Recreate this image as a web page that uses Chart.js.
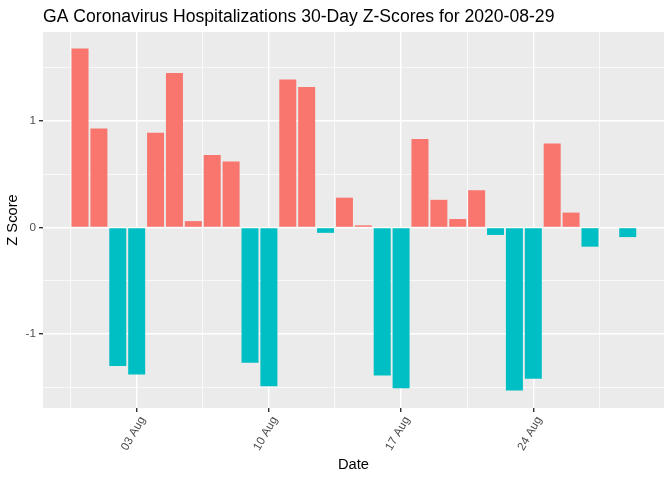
<!DOCTYPE html>
<html>
<head>
<meta charset="utf-8">
<script src="https://cdn.jsdelivr.net/npm/chart.js@4.4.0/dist/chart.umd.min.js"></script>
<style>
  body { margin: 0; background: #fff; }
</style>
</head>
<body>
<canvas id="chart" width="672" height="480"></canvas>
<script>
// z-scores per day
const dates = [
  '2020-07-31', '2020-08-01', '2020-08-02', '2020-08-03', '2020-08-04', '2020-08-05',
  '2020-08-06', '2020-08-07', '2020-08-08', '2020-08-09', '2020-08-10', '2020-08-11',
  '2020-08-12', '2020-08-13', '2020-08-14', '2020-08-15', '2020-08-16', '2020-08-17',
  '2020-08-18', '2020-08-19', '2020-08-20', '2020-08-21', '2020-08-22', '2020-08-23',
  '2020-08-24', '2020-08-25', '2020-08-26', '2020-08-27', '2020-08-28', '2020-08-29'
];
const zScores = [
  1.68, 0.93, -1.30, -1.38, 0.89, 1.45,
  0.06, 0.68, 0.62, -1.27, -1.49, 1.39,
  1.32, -0.05, 0.28, 0.02, -1.39, -1.51,
  0.83, 0.26, 0.08, 0.35, -0.07, -1.53,
  -1.42, 0.79, 0.14, -0.18, null, -0.09
];
const xTickDates = ['2020-08-03', '2020-08-10', '2020-08-17', '2020-08-24'];
const xTickLabels = ['03 Aug', '10 Aug', '17 Aug', '24 Aug'];
const yTickValues = [-1, 0, 1];
const yTickLabels = ['-1', '0', '1'];

const DAY = 86400000;
const t0 = Date.parse(dates[0]);
const dayIdx = d => Math.round((Date.parse(d) - t0) / DAY);

const points = dates.map((d, i) => ({ x: dayIdx(d), y: zScores[i] }));
const colors = zScores.map(v => (v !== null && v > 0) ? '#F8766D' : '#00BFC4');

const xMajor = xTickDates.map(dayIdx);
const xMinor = [];
for (let i = 0; i <= xMajor.length; i++) {
  const prev = i === 0 ? xMajor[0] - 7 : xMajor[i - 1];
  xMinor.push(prev + 3.5);
}

const panelBg = {
  id: 'panelBg',
  beforeDraw(chart) {
    const { ctx, chartArea: a } = chart;
    ctx.save();
    ctx.fillStyle = '#EBEBEB';
    ctx.fillRect(a.left, a.top, a.right - a.left, a.bottom - a.top);
    ctx.restore();
  }
};

const plotTitle = {
  id: 'plotTitle',
  afterDraw(chart) {
    const { ctx, chartArea: a } = chart;
    ctx.save();
    ctx.fillStyle = '#000';
    ctx.font = '17.6px "Liberation Sans", Arial, sans-serif';
    ctx.textBaseline = 'middle';
    ctx.fillText('GA Coronavirus Hospitalizations 30-Day Z-Scores for 2020-08-29', a.left, 17.5);
    ctx.restore();
  }
};

const isMajor = (arr, v) => arr.some(m => Math.abs(m - v) < 1e-6);

new Chart(document.getElementById('chart'), {
  type: 'bar',
  data: {
    datasets: [{
      data: points,
      backgroundColor: colors,
      barPercentage: 0.9,
      categoryPercentage: 1.0,
      borderWidth: 0
    }]
  },
  plugins: [panelBg, plotTitle],
  options: {
    responsive: false,
    animation: false,
    layout: { padding: { top: 32, right: 8, left: 0, bottom: 0 } },
    plugins: { legend: { display: false }, tooltip: { enabled: false } },
    scales: {
      x: {
        type: 'linear',
        offset: false,
        min: -1.96,
        max: 30.92,
        afterFit(scale) { scale.height = 72; },
        afterBuildTicks(scale) {
          scale.ticks = xMinor.concat(xMajor).sort((a, b) => a - b).map(v => ({ value: v }));
        },
        grid: {
          offset: false,
          color: '#FFFFFF',
          lineWidth: c => isMajor(xMajor, c.tick.value) ? 1.4 : 0.7,
          tickColor: c => isMajor(xMajor, c.tick.value) ? '#333333' : 'rgba(0,0,0,0)',
          tickLength: 4,
          drawTicks: true
        },
        border: { display: false },
        ticks: {
          autoSkip: false,
          maxRotation: 60,
          minRotation: 60,
          padding: 2,
          labelOffset: 6,
          color: '#4D4D4D',
          font: { family: '"Liberation Sans", Arial, sans-serif', size: 11.7 },
          callback: v => {
            const k = xMajor.findIndex(m => Math.abs(m - v) < 1e-6);
            return k >= 0 ? xTickLabels[k] : '';
          }
        },
        title: {
          display: true,
          text: 'Date',
          color: '#000',
          font: { family: '"Liberation Sans", Arial, sans-serif', size: 14.7 },
          padding: { top: 0, bottom: 6 }
        }
      },
      y: {
        min: -1.695,
        max: 1.836,
        afterFit(scale) { scale.width = 43; },
        afterBuildTicks(scale) {
          scale.ticks = [-1.5, -1, -0.5, 0, 0.5, 1, 1.5].map(v => ({ value: v }));
        },
        grid: {
          color: '#FFFFFF',
          lineWidth: c => isMajor(yTickValues, c.tick.value) ? 1.4 : 0.7,
          tickColor: c => isMajor(yTickValues, c.tick.value) ? '#333333' : 'rgba(0,0,0,0)',
          tickLength: 4,
          drawTicks: true
        },
        border: { display: false },
        ticks: {
          autoSkip: false,
          padding: 3,
          color: '#4D4D4D',
          font: { family: '"Liberation Sans", Arial, sans-serif', size: 11.7 },
          callback: v => {
            const k = yTickValues.findIndex(m => Math.abs(m - v) < 1e-6);
            return k >= 0 ? yTickLabels[k] : '';
          }
        },
        title: {
          display: true,
          text: 'Z Score',
          color: '#000',
          font: { family: '"Liberation Sans", Arial, sans-serif', size: 14.7 },
          padding: { top: 4, bottom: 0 }
        }
      }
    }
  }
});
</script>
</body>
</html>
